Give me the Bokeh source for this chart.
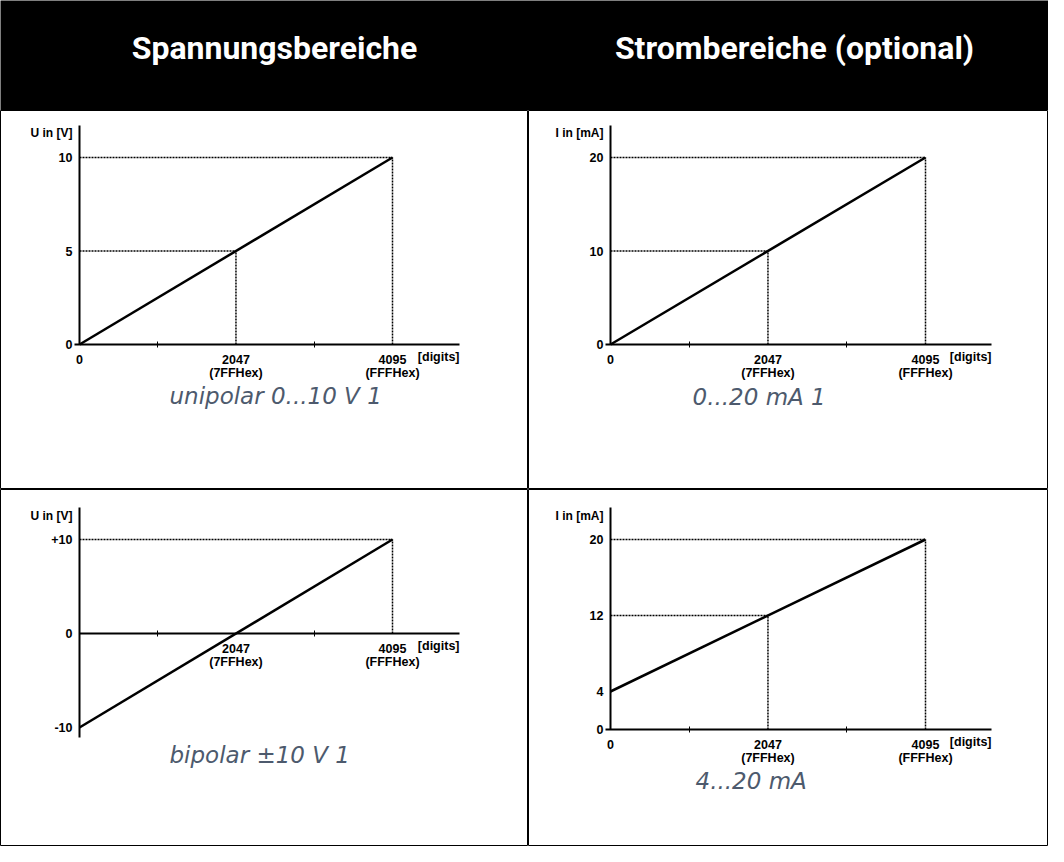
from bokeh.plotting import figure
from bokeh.models import Range1d, LinearAxis, FixedTicker, ColumnDataSource
from bokeh.layouts import column, row
from bokeh.embed import file_html
from bokeh.resources import INLINE
from bokeh.core.properties import value

# ---------------- data ----------------
headers = ["Spannungsbereiche", "Strombereiche (optional)"]

digits = [0, 4095]                       # converter range (x of the transfer line)
digit_ticks = [0, 2047, 4095]
digit_tick_labels = ["0", "2047\n(7FFHex)", "4095\n(FFFHex)"]
digit_minor_ticks = [1023, 3071]
digit_unit = "[digits]"

uni_values = [0, 10]
uni_ticks = [0, 5, 10]
uni_tick_labels = ["0", "5", "10"]
uni_xticks = [0, 2047, 4095]
uni_guide_x = [2047, 4095]
uni_guide_y = [5, 10]
uni_ylabel = "U in [V]"
uni_caption = "unipolar 0...10 V 1"

c20_values = [0, 20]
c20_ticks = [0, 10, 20]
c20_tick_labels = ["0", "10", "20"]
c20_xticks = [0, 2047, 4095]
c20_guide_x = [2047, 4095]
c20_guide_y = [10, 20]
c20_ylabel = "I in [mA]"
c20_caption = "0...20 mA 1"

bip_values = [-10, 10]
bip_ticks = [-10, 0, 10]
bip_tick_labels = ["-10", "0", "+10"]
bip_xticks = [2047, 4095]
bip_guide_x = [4095]
bip_guide_y = [10]
bip_ylabel = "U in [V]"
bip_caption = "bipolar ±10 V 1"

c420_values = [4, 20]
c420_ticks = [0, 4, 12, 20]
c420_tick_labels = ["0", "4", "12", "20"]
c420_xticks = [0, 2047, 4095]
c420_guide_x = [2047, 4095]
c420_guide_y = [12, 20]
c420_ylabel = "I in [mA]"
c420_caption = "4...20 mA"

# ---------------- styles / layout ----------------
TICK_FONT_NAME = "Liberation Sans"
TICK_FONT = value(TICK_FONT_NAME)
CAP_FONT = value("DejaVu Sans")
CAP_COLOR = "#4d5a6d"
HEAD_W, HEAD_H = 1048, 110
head_centers = [274, 794]
head_baseline = 47

x_label_map = dict(zip(digit_ticks, digit_tick_labels))


def cell(w, h, ox, oy, sx, sy, ax_top, ax_bot, ax_right, x_over,
         values, xticks, yticks, ylabels, gx, gy, ylabel, caption, cap_dx, cap_dy, ylab_dy):
    x0, x1 = -ox / sx, (w - ox) / sx
    y1, y0 = oy / sy, -(h - oy) / sy
    p = figure(width=w, height=h, output_backend="svg", toolbar_location=None,
               x_range=Range1d(x0, x1), y_range=Range1d(y0, y1),
               x_axis_location=None, y_axis_location=None,
               min_border=0, min_border_left=0, min_border_right=0,
               min_border_top=0, min_border_bottom=0,
               background_fill_color="white", border_fill_color="white",
               outline_line_color="black", outline_line_width=1)
    p.grid.visible = False

    xa = LinearAxis(fixed_location=0,
                    ticker=FixedTicker(ticks=xticks, minor_ticks=digit_minor_ticks),
                    major_label_overrides={t: x_label_map[t] for t in xticks},
                    bounds=(-x_over / sx, (ax_right - ox) / sx))
    ya = LinearAxis(fixed_location=0,
                    ticker=FixedTicker(ticks=yticks, minor_ticks=[]),
                    major_label_overrides={t: l for t, l in zip(yticks, ylabels)},
                    bounds=(-(ax_bot - oy) / sy, (oy - ax_top) / sy))
    for a in (xa, ya):
        a.axis_line_width = 2
        a.axis_line_color = "black"
        a.major_tick_in = 0
        a.major_tick_out = 0
        a.major_label_text_font = TICK_FONT_NAME
        a.major_label_text_font_style = "bold"
        a.major_label_text_font_size = "12.5px"
        a.major_label_text_color = "black"
        a.major_label_text_line_height = 0.95
    xa.minor_tick_in = 3
    xa.minor_tick_out = 3
    xa.minor_tick_line_width = 1
    xa.major_label_standoff = 5
    ya.minor_tick_line_color = None
    ya.major_label_standoff = 7
    p.add_layout(xa, "below")
    p.add_layout(ya, "left")

    # dotted guide lines
    g = ColumnDataSource(dict(x=gx, y=gy, z=[0] * len(gx)))
    p.segment(x0="z", y0="y", x1="x", y1="y", source=g,
              line_color="black", line_width=1.5, line_dash="2 1")
    p.segment(x0="x", y0="z", x1="x", y1="y", source=g,
              line_color="black", line_width=1.5, line_dash="2 1")

    # transfer line
    p.line(digits, values, line_color="black", line_width=2.5)

    # axis captions
    p.text(x=[0], y=[(oy - ax_top) / sy], text=[ylabel], x_offset=-7, y_offset=ylab_dy,
           text_align="right", text_baseline="middle", text_font=TICK_FONT,
           text_font_style="bold", text_font_size="12px", text_color="black")
    p.text(x=[(ax_right - ox) / sx], y=[0], text=[digit_unit], x_offset=0, y_offset=12,
           text_align="right", text_baseline="middle", text_font=TICK_FONT,
           text_font_style="bold", text_font_size="12.5px", text_color="black")
    p.text(x=[0], y=[0], text=[caption], x_offset=cap_dx, y_offset=cap_dy,
           text_align="left", text_baseline="middle", text_font=CAP_FONT,
           text_font_style="italic", text_font_size="23px", text_color=CAP_COLOR)
    return p


head = figure(width=HEAD_W, height=HEAD_H, output_backend="svg", toolbar_location=None,
              x_range=Range1d(0, HEAD_W), y_range=Range1d(HEAD_H, 0),
              x_axis_location=None, y_axis_location=None, min_border=0,
              background_fill_color="black", border_fill_color="black",
              outline_line_color=None)
head.grid.visible = False
head.text(x=head_centers, y=[head_baseline] * 2, text=headers, text_align="center",
          text_baseline="alphabetic", text_font=value("Roboto"), text_font_style="bold",
          text_font_size="32px", text_color="white")

SX_L = 313 / 4095
SX_R = 315 / 4095

tl = cell(528, 379, 79, 234, SX_L, 18.7, 15, 234, 459, 5,
          uni_values, uni_xticks, uni_ticks, uni_tick_labels, uni_guide_x, uni_guide_y,
          uni_ylabel, uni_caption, 90, 51, 7)
tr = cell(520, 379, 82, 234, SX_R, 9.35, 15, 234, 463, 5,
          c20_values, c20_xticks, c20_ticks, c20_tick_labels, c20_guide_x, c20_guide_y,
          c20_ylabel, c20_caption, 82, 52, 7)
bl = cell(528, 357, 79, 144, SX_L, 9.4, 18, 248, 459, 0,
          bip_values, bip_xticks, bip_ticks, bip_tick_labels, bip_guide_x, bip_guide_y,
          bip_ylabel, bip_caption, 90, 121, 8)
br = cell(520, 357, 82, 240, SX_R, 9.5, 18, 240, 463, 5,
          c420_values, c420_xticks, c420_ticks, c420_tick_labels, c420_guide_x, c420_guide_y,
          c420_ylabel, c420_caption, 85, 51, 8)

layout = column(head, row(tl, tr, spacing=0), row(bl, br, spacing=0), spacing=0)
open("out.html", "w").write(file_html(layout, INLINE))
